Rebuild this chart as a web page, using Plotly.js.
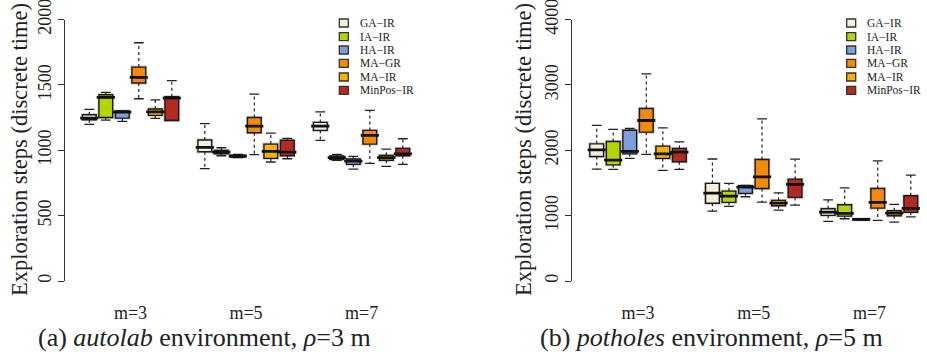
<!DOCTYPE html>
<html><head><meta charset="utf-8">
<script src="https://cdn.plot.ly/plotly-3.0.1.min.js"></script>
<style>html,body{margin:0;padding:0;background:#fff}#chart{width:927px;height:359px}</style>
</head><body><div id="chart"></div>
<script>
// ---------- data ----------
const seriesNames = ['GA\u2212IR','IA\u2212IR','HA\u2212IR','MA\u2212GR','MA\u2212IR','MinPos\u2212IR'];
const seriesColors = ['#F4EFDB','#B5D500','#7C9FDA','#F58A0A','#F1B300','#B52A20'];
const groupLabels = ['m=3','m=5','m=7'];

// autolab environment, rho=3 m  (rows: series, columns: m=3, m=5, m=7)
const autolabLo  = [[1198, 859,1076],[1231, 958, 923],[1221, 943, 856],[1394, 966, 900],[1244, 910, 877],[1228, 935, 892]];
const autolabQ1  = [[1233, 989,1152],[1251, 973, 930],[1246, 948, 892],[1514,1134,1047],[1267, 938, 923],[1228, 958, 958]];
const autolabMed = [[1246,1022,1185],[1404, 986, 943],[1292, 956, 917],[1557,1185,1114],[1294, 992, 943],[1399, 986, 973]];
const autolabQ3  = [[1271,1078,1213],[1424, 999, 956],[1300, 961, 933],[1636,1251,1152],[1315,1047, 961],[1409,1076,1014]];
const autolabHi  = [[1312,1203,1294],[1443,1019, 969],[1300, 969, 953],[1822,1430,1305],[1386,1131,1009],[1532,1091,1088]];

// potholes environment, rho=5 m
const potholesLo  = [[1711,1068, 912],[1707,1141, 952],[1875,1289, 930],[1936,1207, 927],[1691,1085, 901],[1707,1161, 982]];
const potholesQ1  = [[1905,1190,1004],[1777,1203, 993],[1945,1340, 935],[2277,1416,1115],[1875,1151, 998],[1823,1279,1050]];
const potholesMed = [[2006,1345,1054],[1849,1299,1034],[1982,1436, 942],[2455,1594,1203],[1945,1192,1039],[1971,1477,1111]];
const potholesQ3  = [[2098,1493,1105],[2134,1375,1166],[2307,1457, 947],[2638,1859,1416],[2063,1233,1074],[2028,1558,1304]];
const potholesHi  = [[2379,1866,1242],[2318,1493,1426],[2333,1462, 950],[3167,2480,1838],[2342,1349,1172],[2128,1864,1620]];

const yTitle = 'Exploration steps (discrete time)';
const captionA = '(a) <i>autolab</i> environment, <i>\u03C1</i>=3 m';
const captionB = '(b) <i>potholes</i> environment, <i>\u03C1</i>=5 m';

// ---------- build ----------
const W = 927, H = 359;
const px = x => x / W, py = y => 1 - y / H;
const posOf = (g, s) => 7 * g + s + 1;
const BOXW = 0.83;

const traces = [];
function addPanel(xa, ya, lo, q1, med, q3, hi) {
  seriesNames.forEach((name, s) => {
    const xs = groupLabels.map((_, g) => posOf(g, s));
    // soft grey halo
    traces.push({type:'box', xaxis:xa, yaxis:ya, x:xs, q1:q1[s], median:med[s], q3:q3[s],
      lowerfence:q1[s], upperfence:q3[s], width:BOXW, whiskerwidth:0,
      fillcolor:seriesColors[s], line:{color:'rgba(120,120,120,0.4)', width:3},
      hoverinfo:'skip', showlegend:false});
    // main box
    traces.push({type:'box', xaxis:xa, yaxis:ya, x:xs, q1:q1[s], median:med[s], q3:q3[s],
      lowerfence:q1[s], upperfence:q3[s], width:BOXW, whiskerwidth:0,
      fillcolor:seriesColors[s], line:{color:'#1a1a1a', width:1.4},
      name:name, showlegend:false});
    // dashed whiskers
    const wx = [], wy = [];
    xs.forEach((x, g) => { wx.push(x, x, null, x, x, null); wy.push(q3[s][g], hi[s][g], null, q1[s][g], lo[s][g], null); });
    traces.push({type:'scatter', mode:'lines', xaxis:xa, yaxis:ya, x:wx, y:wy,
      line:{color:'#222', width:1.2, dash:'3px,3px'}, hoverinfo:'skip', showlegend:false});
    // whisker caps
    const cx = [], cy = [];
    xs.forEach((x, g) => { cx.push(x, x); cy.push(hi[s][g], lo[s][g]); });
    traces.push({type:'scatter', mode:'markers', xaxis:xa, yaxis:ya, x:cx, y:cy,
      marker:{symbol:'line-ew', size:7, line:{color:'#222', width:1.3}}, hoverinfo:'skip', showlegend:false});
    // thick medians
    traces.push({type:'scatter', mode:'markers', xaxis:xa, yaxis:ya, x:xs, y:med[s],
      marker:{symbol:'line-ew', size:13, line:{color:'#111', width:2.8}}, hoverinfo:'skip', showlegend:false});
  });
}
addPanel('x', 'y', autolabLo, autolabQ1, autolabMed, autolabQ3, autolabHi);
addPanel('x2', 'y2', potholesLo, potholesQ1, potholesMed, potholesQ3, potholesHi);

const tickFont = {size:18, color:'#222'};
const yDom = [py(281), py(19.5)];
const xCommon = {tickvals:groupLabels.map((_, g) => posOf(g, 2.5)), ticktext:groupLabels,
  showline:false, showgrid:false, zeroline:false, ticks:'', tickfont:tickFont, ticklabelstandoff:19,
  ticklabeloverflow:'allow'};
const yCommon = {domain:yDom, showline:true, linecolor:'#333', linewidth:1, ticks:'outside', ticklen:6,
  tickcolor:'#333', tickwidth:1, tickangle:-90, tickfont:tickFont, showgrid:false, zeroline:false, tick0:0,
  ticklabeloverflow:'allow'};

const shapes = [], annotations = [];
const legendRows = [23, 36.7, 50, 63.3, 77, 90.3];
function addLegend(swX, txtX) {
  seriesNames.forEach((name, s) => {
    const yc = legendRows[s];
    shapes.push({type:'rect', xref:'paper', yref:'paper', x0:px(swX), x1:px(swX + 9), y0:py(yc + 4), y1:py(yc - 4),
      fillcolor:seriesColors[s], line:{color:'#333', width:1.3}});
    annotations.push({xref:'paper', yref:'paper', x:px(txtX), y:py(yc), xanchor:'left', yanchor:'middle',
      text:name, showarrow:false, font:{size:11.5, color:'#222'}});
  });
}
addLegend(339.3, 357.5);
addLegend(846.7, 864.5);

annotations.push({xref:'paper', yref:'paper', x:px(19), y:py(150), text:yTitle, textangle:-90, showarrow:false,
  xanchor:'center', yanchor:'middle', font:{size:22.5, color:'#222'}});
annotations.push({xref:'paper', yref:'paper', x:px(523), y:py(150), text:yTitle, textangle:-90, showarrow:false,
  xanchor:'center', yanchor:'middle', font:{size:22.5, color:'#222'}});
annotations.push({xref:'paper', yref:'paper', x:px(204.5), y:py(337), text:captionA, showarrow:false,
  xanchor:'center', yanchor:'middle', font:{size:26, color:'#222'}});
annotations.push({xref:'paper', yref:'paper', x:px(711), y:py(337), text:captionB, showarrow:false,
  xanchor:'center', yanchor:'middle', font:{size:26, color:'#222'}});

const layout = {
  width:W, height:H, margin:{l:0, r:0, t:0, b:0}, showlegend:false, boxmode:'overlay',
  paper_bgcolor:'#ffffff', plot_bgcolor:'rgba(0,0,0,0)',
  font:{family:'"Liberation Serif", "Times New Roman", serif', color:'#222'},
  xaxis: Object.assign({domain:[px(65), px(425)], range:[-0.4727, 21.345], anchor:'y'}, xCommon),
  yaxis: Object.assign({range:[0, 2000], dtick:500, anchor:'x'}, yCommon),
  xaxis2: Object.assign({domain:[px(572), px(927)], range:[-0.494, 20.98], anchor:'y2'}, xCommon),
  yaxis2: Object.assign({range:[0, 4000], dtick:1000, anchor:'x2'}, yCommon),
  shapes:shapes, annotations:annotations
};
Plotly.newPlot('chart', traces, layout, {displayModeBar:false, staticPlot:true});
</script></body></html>
